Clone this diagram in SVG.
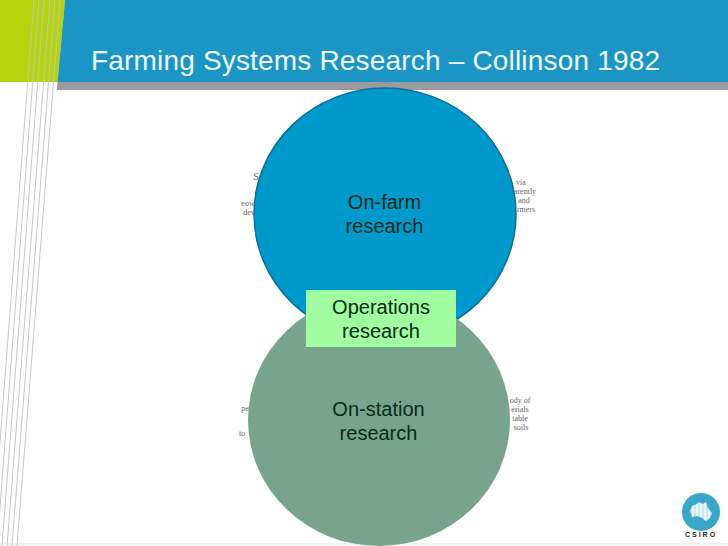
<svg xmlns="http://www.w3.org/2000/svg" width="728" height="546" viewBox="0 0 728 546">
<style>
.t{font-family:"Liberation Sans",Arial,sans-serif;font-size:20px;fill:#0a2a1a;text-anchor:middle}
.f{font-family:"Liberation Serif","Times New Roman",serif;font-size:8px;fill:#666;text-anchor:middle}
.l{stroke:#c2c2c6;stroke-width:.9;fill:none}
</style>
<rect width="728" height="546" fill="#fff"/>
<g id="background">
<polygon points="0,0 65,0 57.500,82 0,82" fill="#b5d40e"/>
<polygon points="65,0 728,0 728,82 57.500,82" fill="#1b95c3"/>
<polygon points="57.500,82 728,82 728,90 57,90" fill="#9a9a9f"/>
<line class="l" x1="34" y1="0" x2="-8" y2="546"/>
<line class="l" x1="39" y1="0" x2="-3" y2="546"/>
<line class="l" x1="44" y1="0" x2="2" y2="546"/>
<line class="l" x1="50" y1="0" x2="7" y2="546"/>
<line class="l" x1="55" y1="0" x2="12" y2="546"/>
<line class="l" x1="60" y1="0" x2="17" y2="546"/>
<line x1="0" y1="544" x2="728" y2="544" stroke="#e4e4e4" stroke-width="1"/>
<text x="91" y="70" font-family="'Liberation Sans',Arial,sans-serif" font-size="28px" fill="#eef8fc" textLength="569">Farming Systems Research – Collinson 1982</text>
</g>
<g id="fragments">
<text class="f" x="256" y="180" style="font-size:10px">S</text>
<text class="f" x="248" y="206">eow</text>
<text class="f" x="249" y="215">dev</text>
<text class="f" x="521" y="185">via</text>
<text class="f" x="525" y="194">arently</text>
<text class="f" x="524" y="203">and</text>
<text class="f" x="526" y="212">rmers</text>
<text class="f" x="245" y="411">pe</text>
<text class="f" x="242" y="436">to</text>
<text class="f" x="520" y="403">ody of</text>
<text class="f" x="520" y="412">erials</text>
<text class="f" x="520" y="421">table</text>
<text class="f" x="521" y="430">soils</text>
</g>
<g id="on-farm">
<ellipse cx="385" cy="214" rx="131" ry="126" fill="#0099cc" stroke="#0b6f96" stroke-width="1.500"/>
<text class="t" x="384.500" y="209">On-farm</text>
<text class="t" x="384.500" y="233">research</text>
</g>
<g id="on-station">
<ellipse cx="379" cy="420" rx="131" ry="126" fill="#78a48e"/>
<text class="t" x="378.500" y="416">On-station</text>
<text class="t" x="378.500" y="440">research</text>
</g>
<g id="operations">
<rect x="306" y="290" width="150" height="57" fill="#a0fea0"/>
<text class="t" x="381" y="314">Operations</text>
<text class="t" x="381" y="338">research</text>
</g>
<g id="connectors"></g>
<g id="logo">
<circle cx="701" cy="512" r="19" fill="#3aa6c9"/>
<path d="M690 511 L692 506 L697 504 L699 502 L703 504 L706 502 L708 508 L712 513 L710 518 L706 521 L702 518 L697 516 L692 517 Z" fill="#fff" opacity=".9"/>
<g stroke="#3aa6c9" stroke-width=".8" opacity=".45"><line x1="691" y1="495" x2="691" y2="528"/><line x1="695" y1="495" x2="695" y2="528"/><line x1="699" y1="495" x2="699" y2="528"/><line x1="703" y1="495" x2="703" y2="528"/><line x1="707" y1="495" x2="707" y2="528"/><line x1="711" y1="495" x2="711" y2="528"/></g>
<text x="701" y="537" font-family="'Liberation Sans',Arial,sans-serif" font-size="7px" font-weight="700" fill="#222" text-anchor="middle" letter-spacing="2">CSIRO</text>
</g>
</svg>
